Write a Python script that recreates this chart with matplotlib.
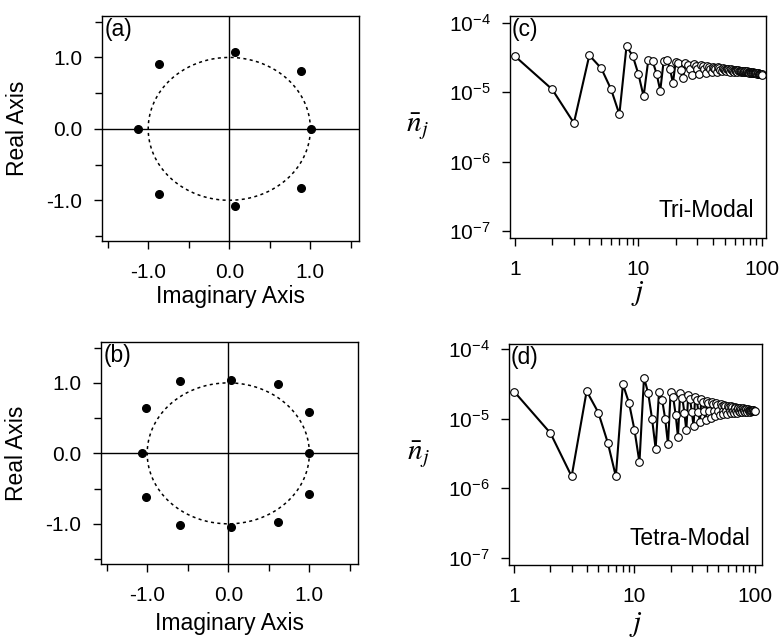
import numpy as np
import matplotlib
matplotlib.use("Agg")
import matplotlib.pyplot as plt
from matplotlib.ticker import MultipleLocator, FuncFormatter, LogLocator, NullLocator, NullFormatter

plt.rcParams["font.family"] = ["Liberation Sans", "DejaVu Sans"]
plt.rcParams["mathtext.fontset"] = "stix"
plt.rcParams["axes.unicode_minus"] = False

# roots, panel (a): tri-modal
roots_a_x = [-1.12, -0.87, 0.07, 0.89, 1.01, 0.89, 0.07, -0.87]
roots_a_y = [0.0, 0.91, 1.07, 0.81, 0.0, -0.83, -1.08, -0.91]

# roots, panel (b): tetra-modal
roots_b_x = [-1.07, -1.01, -0.60, 0.03, 0.61, 1.00, 1.00, 1.00, 0.61, 0.03, -0.60, -1.01]
roots_b_y = [0.0, 0.64, 1.02, 1.04, 0.98, 0.58, 0.0, -0.58, -0.98, -1.04, -1.01, -0.62]

j = list(range(1, 101))

# n_j in units of 1e-5
tri_modal = [
    3.3, 1.1, 0.36, 3.4, 2.2, 1.1, 0.48, 4.6, 3.3, 1.8,
    0.87, 2.9, 2.8, 1.85, 1.05, 2.85, 2.9, 2.15, 1.35, 2.75,
    2.65, 2.1, 1.62, 2.62, 2.5, 2.18, 1.74, 2.52, 2.42, 2.18,
    1.85, 2.45, 2.36, 2.17, 1.92, 2.38, 2.30, 2.15, 1.96, 2.32,
    2.25, 2.13, 1.98, 2.27, 2.21, 2.11, 1.99, 2.22, 2.17, 2.09,
    1.99, 2.18, 2.14, 2.07, 1.98, 2.15, 2.11, 2.05, 1.97, 2.11,
    2.07, 2.02, 1.96, 2.08, 2.05, 2.00, 1.95, 2.05, 2.02, 1.98,
    1.94, 2.02, 2.00, 1.96, 1.93, 1.99, 1.97, 1.94, 1.91, 1.96,
    1.94, 1.92, 1.89, 1.93, 1.91, 1.89, 1.87, 1.90, 1.88, 1.87,
    1.85, 1.87, 1.86, 1.85, 1.83, 1.84, 1.83, 1.82, 1.81, 1.79,
]

tetra_modal = [
    2.45, 0.62, 0.148, 2.5, 1.23, 0.45, 0.148, 3.15, 1.7, 0.69,
    0.235, 3.9, 2.35, 1.0, 0.37, 2.45, 1.86, 1.0, 0.43, 2.45,
    2.04, 1.15, 0.55, 2.35, 2.02, 1.22, 0.68, 2.19, 1.92, 1.25,
    0.79, 2.05, 1.84, 1.27, 0.89, 1.92, 1.76, 1.28, 0.97, 1.82,
    1.69, 1.29, 1.04, 1.74, 1.63, 1.29, 1.09, 1.67, 1.58, 1.30,
    1.13, 1.62, 1.54, 1.30, 1.16, 1.58, 1.51, 1.30, 1.19, 1.55,
    1.48, 1.30, 1.21, 1.51, 1.46, 1.30, 1.22, 1.48, 1.44, 1.30,
    1.23, 1.45, 1.42, 1.30, 1.24, 1.43, 1.40, 1.30, 1.25, 1.41,
    1.38, 1.30, 1.26, 1.39, 1.37, 1.30, 1.27, 1.37, 1.35, 1.30,
    1.27, 1.35, 1.34, 1.30, 1.28, 1.33, 1.32, 1.30, 1.29, 1.30,
]

W, H = 781, 643
fig = plt.figure(figsize=(W / 100, H / 100), dpi=100)


def box(l, t, r, b):
    return [l / W, (H - b) / H, (r - l) / W, (b - t) / H]


def style(ax):
    for s in ax.spines.values():
        s.set_linewidth(1.0)
    ax.tick_params(which="both", direction="out", width=1.0, labelsize=15,
                   top=False, right=False)
    ax.tick_params(axis="x", which="both", pad=10)
    ax.tick_params(axis="y", which="both", pad=8)
    ax.tick_params(which="major", length=6)
    ax.tick_params(which="minor", length=5)


def root_panel(ax, xs, ys, tag, xlab_y):
    th = np.linspace(0, 2 * np.pi, 400)
    ax.plot(np.cos(th), np.sin(th), color="black", lw=1.1, ls=(0, (2, 2.2)))
    ax.axhline(0, color="black", lw=1.0)
    ax.axvline(0, color="black", lw=1.0)
    ax.plot(xs, ys, "o", color="black", ms=5.5, zorder=3)
    ax.set_xlim(-1.57, 1.60)
    ax.set_ylim(-1.57, 1.58)
    ax.xaxis.set_major_locator(MultipleLocator(1.0))
    ax.xaxis.set_minor_locator(MultipleLocator(0.5))
    ax.yaxis.set_major_locator(MultipleLocator(1.0))
    ax.yaxis.set_minor_locator(MultipleLocator(0.5))
    fmt = FuncFormatter(lambda v, p: "%.1f" % v)
    ax.xaxis.set_major_formatter(fmt)
    ax.yaxis.set_major_formatter(fmt)
    ax.set_xlabel("Imaginary Axis", fontsize=16.5, va="center")
    ax.set_ylabel("Real Axis", fontsize=16.5, va="center")
    ax.xaxis.set_label_coords(0.5, xlab_y)
    ax.yaxis.set_label_coords(-0.33, 0.5)
    ax.text(0.012, 0.99, tag, transform=ax.transAxes, fontsize=16.5,
            ha="left", va="top")
    style(ax)


def dist_panel(ax, ys, tag, name, lims, xlab_y):
    vals = [v * 1e-5 for v in ys]
    ax.plot(j, vals, "-o", color="black", lw=1.5, ms=5.5,
            mfc="white", mec="black", mew=0.8)
    ax.set_xscale("log")
    ax.set_yscale("log")
    ax.set_xlim(lims[0])
    ax.set_ylim(lims[1])
    ax.xaxis.set_major_locator(LogLocator(base=10, numticks=5))
    ax.xaxis.set_minor_locator(LogLocator(base=10, subs=np.arange(2, 10), numticks=10))
    ax.xaxis.set_minor_formatter(NullFormatter())
    ax.xaxis.set_major_formatter(FuncFormatter(lambda v, p: "%d" % round(v)))
    ax.yaxis.set_major_locator(LogLocator(base=10, numticks=10))
    ax.yaxis.set_minor_locator(NullLocator())
    ax.yaxis.set_major_formatter(FuncFormatter(
        lambda v, p: r"10$^{\mathregular{%d}}$" % round(np.log10(v))))
    ax.set_xlabel(r"$j$", fontsize=21, va="center")
    ax.set_ylabel(r"$\bar{n}_j$", fontsize=21, rotation=0, va="center", ha="center")
    ax.xaxis.set_label_coords(0.5, xlab_y)
    ax.yaxis.set_label_coords(-0.36, 0.5)
    ax.text(0.008, 0.99, tag, transform=ax.transAxes, fontsize=16.5,
            ha="left", va="top")
    ax.text(0.955, 0.07, name, transform=ax.transAxes, fontsize=16.5,
            ha="right", va="bottom")
    style(ax)


ax_a = fig.add_axes(box(102, 16, 359, 241))
root_panel(ax_a, roots_a_x, roots_a_y, "(a)", -0.245)

ax_b = fig.add_axes(box(101, 342, 358, 564))
root_panel(ax_b, roots_b_x, roots_b_y, "(b)", -0.27)

ax_c = fig.add_axes(box(510, 16, 766, 238))
dist_panel(ax_c, tri_modal, "(c)", "Tri-Modal",
           ((10 ** -0.04, 10 ** 2.032), (10 ** -7.10, 10 ** -3.903)), -0.25)

ax_d = fig.add_axes(box(509, 344, 762, 565))
dist_panel(ax_d, tetra_modal, "(d)", "Tetra-Modal",
           ((10 ** -0.044, 10 ** 2.061), (10 ** -7.105, 10 ** -3.924)), -0.27)

fig.savefig("out.png", dpi=100)
